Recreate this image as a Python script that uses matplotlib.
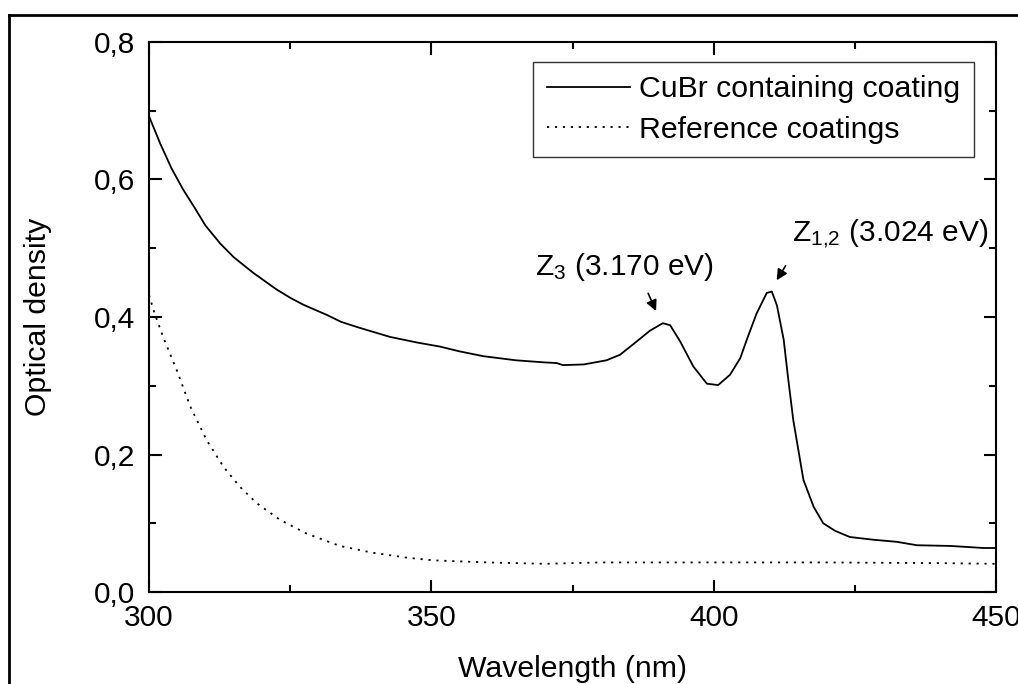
import matplotlib
matplotlib.use('Agg')
import matplotlib.pyplot as plt
from matplotlib.ticker import MultipleLocator, FuncFormatter
from matplotlib.lines import Line2D

plt.rcParams['font.family'] = ['Liberation Sans', 'DejaVu Sans']
plt.rcParams['mathtext.fontset'] = 'custom'
plt.rcParams['mathtext.rm'] = 'Liberation Sans'
plt.rcParams['mathtext.it'] = 'Liberation Sans:italic'

# CuBr containing coating
wl_cubr = [300, 302, 304, 306, 308, 310, 312.6, 315, 318.5, 322.6, 325, 327.3,
           331.5, 334, 337, 342.7, 347.4, 351.5, 355, 359.2, 365, 370, 372.2,
           373.3, 377, 381, 383.4, 386, 388.7, 391, 392.3, 394.1, 396.4, 398.8,
           400.8, 402.9, 404.7, 406, 407.6, 409.4, 410.3, 411.2, 412.4, 413.2,
           414.1, 415.9, 417.7, 419.4, 421.5, 424.1, 428.3, 432.4, 436, 441.9,
           447.8, 450]
od_cubr = [0.692, 0.652, 0.616, 0.586, 0.560, 0.533, 0.507, 0.487, 0.464, 0.440,
           0.428, 0.418, 0.403, 0.393, 0.385, 0.371, 0.363, 0.357, 0.350, 0.343,
           0.337, 0.334, 0.333, 0.330, 0.331, 0.337, 0.345, 0.362, 0.380, 0.391,
           0.388, 0.364, 0.328, 0.303, 0.301, 0.316, 0.340, 0.370, 0.405, 0.435,
           0.437, 0.417, 0.367, 0.310, 0.250, 0.163, 0.124, 0.100, 0.089, 0.080,
           0.076, 0.073, 0.068, 0.067, 0.064, 0.064]

# reference coatings
wl_ref = [300, 301, 302.5, 304.9, 307.3, 310.2, 313.2, 316.1, 319.1, 323.2,
          327.9, 333.8, 339.7, 345.6, 350.4, 360, 370, 380, 400, 420, 440, 450]
od_ref = [0.432, 0.405, 0.371, 0.323, 0.270, 0.221, 0.182, 0.153, 0.129, 0.105,
          0.085, 0.067, 0.057, 0.050, 0.046, 0.043, 0.041, 0.043, 0.043, 0.043,
          0.042, 0.041]

fs = 21.8

fig = plt.figure(figsize=(10.18, 6.84), dpi=100)
ax = fig.add_axes([149/1018, 1-592/684, (996-149)/1018, (592-42)/684])

ax.plot(wl_cubr, od_cubr, color='k', lw=1.3, label='CuBr containing coating')
ax.plot(wl_ref, od_ref, color='k', lw=1.3, linestyle=(0, (1.2, 3.2)),
        label='Reference coatings')

ax.set_xlim(300, 450)
ax.set_ylim(0, 0.8)
ax.xaxis.set_major_locator(MultipleLocator(50))
ax.xaxis.set_minor_locator(MultipleLocator(25))
ax.yaxis.set_major_locator(MultipleLocator(0.2))
ax.yaxis.set_minor_locator(MultipleLocator(0.1))
ax.yaxis.set_major_formatter(FuncFormatter(lambda v, p: f'{v:.1f}'.replace('.', ',')))
ax.tick_params(which='both', direction='in', top=True, right=True,
               labelsize=21.5, width=1.5)
ax.tick_params(which='major', length=9)
ax.tick_params(which='minor', length=5)
ax.tick_params(axis='y', pad=10)
ax.tick_params(axis='x', pad=9)
for s in ax.spines.values():
    s.set_linewidth(1.5)

ax.set_xlabel('Wavelength (nm)', fontsize=fs, labelpad=16)
ax.set_ylabel('Optical density', fontsize=fs, labelpad=30)

leg = ax.legend(loc='upper right', bbox_to_anchor=(0.974, 0.964), borderaxespad=0,
                fontsize=fs, frameon=True, fancybox=False, handlelength=2.75,
                handletextpad=0.3, labelspacing=0.4, borderpad=0.45)
leg.get_frame().set_edgecolor('k')
leg.get_frame().set_linewidth(1.0)

ax.text(368.4, 0.473, 'Z$_3$ (3.170 eV)', fontsize=21.5, ha='left', va='center')
ax.text(413.9, 0.522, 'Z$_{1{,}2}$ (3.024 eV)', fontsize=21.5, ha='left', va='center')
ax.annotate('', xy=(390.0, 0.405), xytext=(388.2, 0.438),
            arrowprops=dict(arrowstyle='-|>', color='k', lw=1.2, mutation_scale=16))
ax.annotate('', xy=(410.9, 0.450), xytext=(413.0, 0.478),
            arrowprops=dict(arrowstyle='-|>', color='k', lw=1.2, mutation_scale=16))

# outer frame, clipped by the image edge
x0 = 9/1018
y0 = 1 - 15/684
fig.add_artist(Line2D([x0, x0], [0, y0], color='k', lw=2, transform=fig.transFigure))
fig.add_artist(Line2D([x0, 1], [y0, y0], color='k', lw=2, transform=fig.transFigure))

fig.savefig('out.png', dpi=100)
